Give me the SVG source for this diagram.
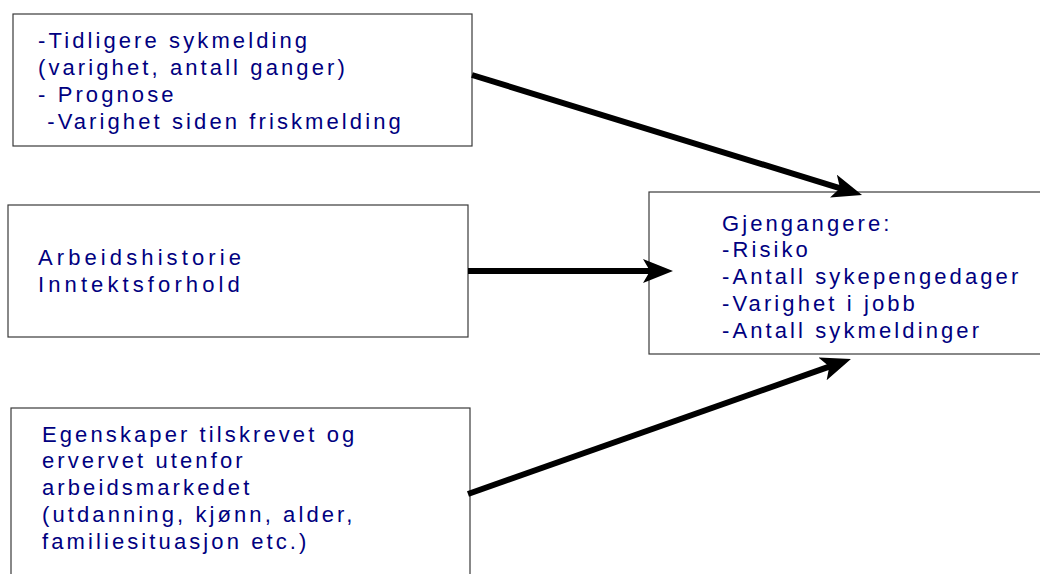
<svg xmlns="http://www.w3.org/2000/svg" width="1040" height="574" viewBox="0 0 1040 574">
<defs>
<style>
.box{fill:#fff;stroke:#3a3a3a;stroke-width:1.2}
.t{font-family:"Liberation Sans",Arial,sans-serif;font-size:22px;fill:#000080;letter-spacing:3.1px}
.w{letter-spacing:4.1px}
.c{stroke:#000;stroke-width:6;fill:none}
</style>
<marker id="ah" markerUnits="userSpaceOnUse" viewBox="0 0 30 24" refX="10" refY="12" markerWidth="30" markerHeight="24" orient="auto">
<path d="M0,0 L30,12 L0,24 L7,12 z" fill="#000"/>
</marker>
</defs>
<rect width="1040" height="574" fill="#fff"/>
<g id="n1">
<rect class="box" x="13" y="14" width="459" height="132"/>
<text class="t" x="38" y="48">-Tidligere sykmelding</text>
<text class="t" x="38" y="75">(varighet, antall ganger)</text>
<text class="t" x="38" y="102">- Prognose</text>
<text class="t" x="38" y="129" xml:space="preserve"> -Varighet siden friskmelding</text>
</g>
<g id="n2">
<rect class="box" x="8" y="205" width="460" height="132"/>
<text class="t w" x="38" y="265">Arbeidshistorie</text>
<text class="t w" x="38" y="292">Inntektsforhold</text>
</g>
<g id="n3">
<rect class="box" x="11" y="408" width="459" height="180"/>
<text class="t" x="42" y="442">Egenskaper tilskrevet og</text>
<text class="t" x="42" y="468">ervervet utenfor</text>
<text class="t" x="42" y="495">arbeidsmarkedet</text>
<text class="t" x="42" y="522">(utdanning, kjønn, alder,</text>
<text class="t" x="42" y="549">familiesituasjon etc.)</text>
</g>
<g id="n4">
<rect class="box" x="649" y="192" width="400" height="162"/>
<text class="t" x="722" y="231">Gjengangere:</text>
<text class="t" x="722" y="257">-Risiko</text>
<text class="t" x="722" y="284">-Antall sykepengedager</text>
<text class="t" x="722" y="311">-Varighet i jobb</text>
<text class="t" x="722" y="338">-Antall sykmeldinger</text>
</g>
<g id="connectors">
<line class="c" x1="472" y1="75" x2="842.9" y2="189.1" marker-end="url(#ah)"/>
<line class="c" x1="468" y1="271" x2="653" y2="271" marker-end="url(#ah)"/>
<line class="c" x1="468" y1="494" x2="832.1" y2="365.6" marker-end="url(#ah)"/>
</g>
</svg>
